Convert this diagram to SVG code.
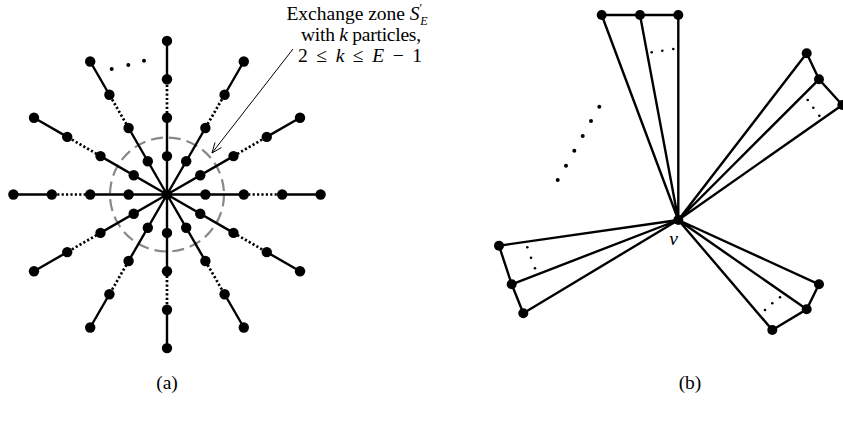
<svg xmlns="http://www.w3.org/2000/svg" width="843" height="424" viewBox="0 0 843 424">
<style>
.n{fill:#000}
.s{stroke:#000;stroke-width:2.4;fill:none}
.d{stroke:#000;stroke-width:2.7;fill:none;stroke-dasharray:2.2 2.2}
.zone{stroke:#888;stroke-width:2.2;fill:none;stroke-dasharray:12 6}
.t{font-family:"Liberation Serif","DejaVu Serif",serif;font-size:19.5px;fill:#000}
.i{font-style:italic}
.dot{fill:#000}
</style>
<rect width="843" height="424" fill="#fff"/>
<!-- (a) -->
<circle class="zone" cx="167" cy="194.5" r="57"/>
<g id="connectors-a">
<path class="s" d="M167 194.5L243.8 194.5M282.2 194.5L320.6 194.5"/>
<path class="d" d="M243.8 194.5L282.2 194.5"/>
<path class="s" d="M167 194.5L233.51 156.1M266.77 136.9L300.02 117.7"/>
<path class="d" d="M233.51 156.1L266.77 136.9"/>
<path class="s" d="M167 194.5L205.4 128M224.6 94.73L243.8 61.48"/>
<path class="d" d="M205.4 128L224.6 94.73"/>
<path class="s" d="M167 194.5L167 117.7M167 79.3L167 40.9"/>
<path class="d" d="M167 117.7L167 79.3"/>
<path class="s" d="M167 194.5L128.6 128M109.4 94.73L90.2 61.48"/>
<path class="d" d="M128.6 128L109.4 94.73"/>
<path class="s" d="M167 194.5L100.49 156.1M67.23 136.9L33.98 117.7"/>
<path class="d" d="M100.49 156.1L67.23 136.9"/>
<path class="s" d="M167 194.5L90.2 194.5M51.8 194.5L13.4 194.5"/>
<path class="d" d="M90.2 194.5L51.8 194.5"/>
<path class="s" d="M167 194.5L100.49 232.9M67.23 252.1L33.98 271.3"/>
<path class="d" d="M100.49 232.9L67.23 252.1"/>
<path class="s" d="M167 194.5L128.6 261M109.4 294.27L90.2 327.52"/>
<path class="d" d="M128.6 261L109.4 294.27"/>
<path class="s" d="M167 194.5L167 271.3M167 309.7L167 348.1"/>
<path class="d" d="M167 271.3L167 309.7"/>
<path class="s" d="M167 194.5L205.4 261M224.6 294.27L243.8 327.52"/>
<path class="d" d="M205.4 261L224.6 294.27"/>
<path class="s" d="M167 194.5L233.51 232.9M266.77 252.1L300.02 271.3"/>
<path class="d" d="M233.51 232.9L266.77 252.1"/>
<path d="M293 49L212 153M221.5 147.5L212 153L215 142.4" stroke="#000" stroke-width="1" fill="none"/>
</g>
<g id="a-center"><circle class="n" cx="167" cy="194.5" r="5.3"/></g>
<g id="a-r0-1"><circle class="n" cx="205.4" cy="194.5" r="5.2"/></g>
<g id="a-r0-2"><circle class="n" cx="243.8" cy="194.5" r="5.2"/></g>
<g id="a-r0-3"><circle class="n" cx="282.2" cy="194.5" r="5.2"/></g>
<g id="a-r0-4"><circle class="n" cx="320.6" cy="194.5" r="5.2"/></g>
<g id="a-r30-1"><circle class="n" cx="200.26" cy="175.3" r="5.2"/></g>
<g id="a-r30-2"><circle class="n" cx="233.51" cy="156.1" r="5.2"/></g>
<g id="a-r30-3"><circle class="n" cx="266.77" cy="136.9" r="5.2"/></g>
<g id="a-r30-4"><circle class="n" cx="300.02" cy="117.7" r="5.2"/></g>
<g id="a-r60-1"><circle class="n" cx="186.2" cy="161.24" r="5.2"/></g>
<g id="a-r60-2"><circle class="n" cx="205.4" cy="128" r="5.2"/></g>
<g id="a-r60-3"><circle class="n" cx="224.6" cy="94.73" r="5.2"/></g>
<g id="a-r60-4"><circle class="n" cx="243.8" cy="61.48" r="5.2"/></g>
<g id="a-r90-1"><circle class="n" cx="167" cy="156.1" r="5.2"/></g>
<g id="a-r90-2"><circle class="n" cx="167" cy="117.7" r="5.2"/></g>
<g id="a-r90-3"><circle class="n" cx="167" cy="79.3" r="5.2"/></g>
<g id="a-r90-4"><circle class="n" cx="167" cy="40.9" r="5.2"/></g>
<g id="a-r120-1"><circle class="n" cx="147.8" cy="161.24" r="5.2"/></g>
<g id="a-r120-2"><circle class="n" cx="128.6" cy="128" r="5.2"/></g>
<g id="a-r120-3"><circle class="n" cx="109.4" cy="94.73" r="5.2"/></g>
<g id="a-r120-4"><circle class="n" cx="90.2" cy="61.48" r="5.2"/></g>
<g id="a-r150-1"><circle class="n" cx="133.74" cy="175.3" r="5.2"/></g>
<g id="a-r150-2"><circle class="n" cx="100.49" cy="156.1" r="5.2"/></g>
<g id="a-r150-3"><circle class="n" cx="67.23" cy="136.9" r="5.2"/></g>
<g id="a-r150-4"><circle class="n" cx="33.98" cy="117.7" r="5.2"/></g>
<g id="a-r180-1"><circle class="n" cx="128.6" cy="194.5" r="5.2"/></g>
<g id="a-r180-2"><circle class="n" cx="90.2" cy="194.5" r="5.2"/></g>
<g id="a-r180-3"><circle class="n" cx="51.8" cy="194.5" r="5.2"/></g>
<g id="a-r180-4"><circle class="n" cx="13.4" cy="194.5" r="5.2"/></g>
<g id="a-r210-1"><circle class="n" cx="133.74" cy="213.7" r="5.2"/></g>
<g id="a-r210-2"><circle class="n" cx="100.49" cy="232.9" r="5.2"/></g>
<g id="a-r210-3"><circle class="n" cx="67.23" cy="252.1" r="5.2"/></g>
<g id="a-r210-4"><circle class="n" cx="33.98" cy="271.3" r="5.2"/></g>
<g id="a-r240-1"><circle class="n" cx="147.8" cy="227.76" r="5.2"/></g>
<g id="a-r240-2"><circle class="n" cx="128.6" cy="261" r="5.2"/></g>
<g id="a-r240-3"><circle class="n" cx="109.4" cy="294.27" r="5.2"/></g>
<g id="a-r240-4"><circle class="n" cx="90.2" cy="327.52" r="5.2"/></g>
<g id="a-r270-1"><circle class="n" cx="167" cy="232.9" r="5.2"/></g>
<g id="a-r270-2"><circle class="n" cx="167" cy="271.3" r="5.2"/></g>
<g id="a-r270-3"><circle class="n" cx="167" cy="309.7" r="5.2"/></g>
<g id="a-r270-4"><circle class="n" cx="167" cy="348.1" r="5.2"/></g>
<g id="a-r300-1"><circle class="n" cx="186.2" cy="227.76" r="5.2"/></g>
<g id="a-r300-2"><circle class="n" cx="205.4" cy="261" r="5.2"/></g>
<g id="a-r300-3"><circle class="n" cx="224.6" cy="294.27" r="5.2"/></g>
<g id="a-r300-4"><circle class="n" cx="243.8" cy="327.52" r="5.2"/></g>
<g id="a-r330-1"><circle class="n" cx="200.26" cy="213.7" r="5.2"/></g>
<g id="a-r330-2"><circle class="n" cx="233.51" cy="232.9" r="5.2"/></g>
<g id="a-r330-3"><circle class="n" cx="266.77" cy="252.1" r="5.2"/></g>
<g id="a-r330-4"><circle class="n" cx="300.02" cy="271.3" r="5.2"/></g>
<g id="a-ellipsis">
<circle class="dot" cx="111.7" cy="69" r="2"/>
<circle class="dot" cx="128.3" cy="65" r="2"/>
<circle class="dot" cx="144" cy="60.7" r="2"/>
</g>
<g id="a-label">
<text class="t" x="357" y="20" text-anchor="middle">Exchange zone <tspan class="i">S</tspan><tspan font-size="12" dy="-8">′</tspan><tspan class="i" font-size="12" dx="-2" dy="12.5">E</tspan></text>
<text class="t" x="361" y="41" text-anchor="middle" textLength="120" lengthAdjust="spacing">with <tspan class="i">k</tspan> particles,</text>
<text class="t" x="360" y="62" text-anchor="middle" textLength="124" lengthAdjust="spacing">2 ≤ <tspan class="i">k</tspan> ≤ <tspan class="i">E</tspan> − 1</text>
</g>
<text class="t" x="167" y="389" text-anchor="middle" font-size="20">(a)</text>
<!-- (b) -->
<g id="connectors-b">
<path class="s" d="M678.3 220L601.7 15M678.3 220L640 15M678.3 220L678.3 15M601.7 15L678.3 15"/>
<path class="s" d="M678.3 220L806.7 53.3M678.3 220L819 79.3M678.3 220L842.3 105M806.7 53.3L819 79.3L842.3 105"/>
<path class="s" d="M678.3 220L499 245.7M678.3 220L511.7 284.3M678.3 220L523.3 313.3M499 245.7L511.7 284.3L523.3 313.3"/>
<path class="s" d="M678.3 220L819 284.3M678.3 220L806.7 309.3M678.3 220L772.3 330M819 284.3L806.7 309.3L772.3 330"/>
</g>
<g id="b-v"><circle class="n" cx="678.3" cy="220" r="5"/><text class="t i" x="673.5" y="245" text-anchor="middle" font-size="20">v</text></g>
<g id="b-t1"><circle class="n" cx="601.7" cy="15" r="5"/></g>
<g id="b-t2"><circle class="n" cx="640" cy="15" r="5"/></g>
<g id="b-t3"><circle class="n" cx="678.3" cy="15" r="5"/></g>
<g id="b-r1"><circle class="n" cx="806.7" cy="53.3" r="5"/></g>
<g id="b-r2"><circle class="n" cx="819" cy="79.3" r="5"/></g>
<g id="b-r3"><circle class="n" cx="842.3" cy="105" r="5"/></g>
<g id="b-l1"><circle class="n" cx="499" cy="245.7" r="5"/></g>
<g id="b-l2"><circle class="n" cx="511.7" cy="284.3" r="5"/></g>
<g id="b-l3"><circle class="n" cx="523.3" cy="313.3" r="5"/></g>
<g id="b-b1"><circle class="n" cx="819" cy="284.3" r="5"/></g>
<g id="b-b2"><circle class="n" cx="806.7" cy="309.3" r="5"/></g>
<g id="b-b3"><circle class="n" cx="772.3" cy="330" r="5"/></g>
<g id="b-dots">
<circle class="dot" cx="651.7" cy="52.3" r="1.3"/><circle class="dot" cx="662.3" cy="50.7" r="1.3"/><circle class="dot" cx="673.3" cy="49" r="1.3"/>
<circle class="dot" cx="807.7" cy="100" r="1.3"/><circle class="dot" cx="813.3" cy="107.7" r="1.3"/><circle class="dot" cx="819.3" cy="115.7" r="1.3"/>
<circle class="dot" cx="527.3" cy="247.3" r="1.3"/><circle class="dot" cx="531" cy="257.7" r="1.3"/><circle class="dot" cx="535" cy="268.3" r="1.3"/>
<circle class="dot" cx="765" cy="310" r="1.3"/><circle class="dot" cx="772.3" cy="303.3" r="1.3"/><circle class="dot" cx="780" cy="297.3" r="1.3"/>
<circle class="dot" cx="599.3" cy="106.7" r="2"/><circle class="dot" cx="591" cy="121" r="2"/><circle class="dot" cx="582.7" cy="136" r="2"/>
<circle class="dot" cx="574.3" cy="150.7" r="2"/><circle class="dot" cx="566" cy="165.7" r="2"/><circle class="dot" cx="557.7" cy="180" r="2"/>
</g>
<text class="t" x="690" y="389" text-anchor="middle" font-size="20">(b)</text>
</svg>
